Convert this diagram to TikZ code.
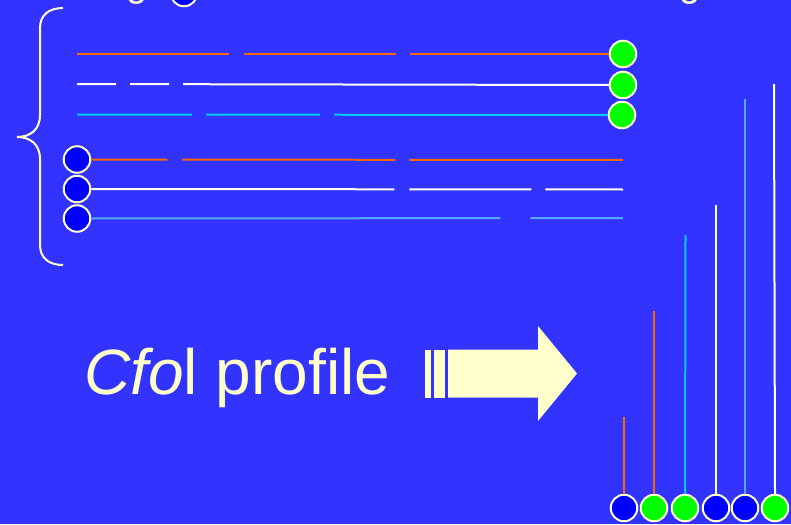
\documentclass[tikz,border=0pt]{standalone}
\usepackage{fontspec}
\setmainfont{Liberation Sans}
\definecolor{bg}{RGB}{51,51,255}
\definecolor{cream}{RGB}{255,255,204}
\definecolor{orng}{RGB}{255,102,0}
\definecolor{cyn}{RGB}{0,204,255}
\definecolor{ltblue}{RGB}{85,170,255}
\definecolor{grn}{RGB}{0,255,0}
\definecolor{blu}{RGB}{0,0,255}
\begin{document}
\begin{tikzpicture}[x=1pt,y=-1pt,
  dot/.style={circle,draw=cream,line width=2pt,minimum size=26.5pt,inner sep=0pt},
  gdot/.style={dot,fill=grn},
  bdot/.style={dot,fill=blu},
  frag/.style={line width=2pt},
  ftxt/.style={text=cream,inner sep=0pt}
]
\useasboundingbox (0,0) rectangle (791,524);
\fill[bg] (0,0) rectangle (791,524);
\clip (0,0) rectangle (791,524);

% cropped title remnants
\node[ftxt,font=\fontsize{38}{40}\selectfont,anchor=base] (tg1) at (137,-3) {g};
\node[ftxt,font=\fontsize{38}{40}\selectfont,anchor=base] (tg2) at (690,-3) {g};
\node[bdot] (tc) at (184,-7) {};

% brace
\draw[cream,line width=2pt] (63,8) .. controls (49,8) and (40,15) .. (40,28)
  -- (40,115) .. controls (40,130) and (30,137) .. (17,137)
  .. controls (30,137) and (40,144) .. (40,159)
  -- (40,245) .. controls (40,258) and (49,265) .. (63,265);

% top rows ending at green dots
\node[gdot] (g1) at (623,54) {};
\node[gdot] (g2) at (623,85) {};
\node[gdot] (g3) at (622,115) {};
\coordinate (s1) at (77,54);
\coordinate (s2) at (77,84);
\coordinate (s3) at (77,114.5);
\draw[frag,orng,dash pattern=on 152pt off 15pt on 152pt off 14pt on 400pt] (s1) -- (g1.west);
\draw[frag,white,dash pattern=on 39pt off 14pt on 39pt off 14pt on 500pt] (s2) -- (g2.west);
\draw[frag,cyn,dash pattern=on 115pt off 14pt on 114pt off 14pt on 500pt] (s3) -- (g3.west);

% lower rows starting at blue dots
\node[bdot] (b4) at (77,159.5) {};
\node[bdot] (b5) at (77,189) {};
\node[bdot] (b6) at (77,218.5) {};
\coordinate (e4) at (623,160);
\coordinate (e5) at (623,189.5);
\coordinate (e6) at (623,218);
\draw[frag,orng,dash pattern=on 76pt off 15pt on 213pt off 14pt on 300pt] (b4.east) -- (e4);
\draw[frag,white,dash pattern=on 303pt off 15pt on 122pt off 14pt on 100pt] (b5.east) -- (e5);
\draw[frag,ltblue,dash pattern=on 409pt off 30pt on 100pt] (b6.east) -- (e6);

% label
\node[ftxt,anchor=base west,font=\fontsize{64}{70}\selectfont] (lbl) at (84,394) {\textit{Cfo}l profile};

% block arrow
\fill[cream] (424.6,349.5) rectangle (430.8,397.5);
\fill[cream] (434.3,349.5) rectangle (444.6,397.5);
\fill[cream] (448,349.5) -- (538,349.5) -- (538,326) -- (577,373.5) -- (538,421) -- (538,397.5) -- (448,397.5) -- cycle;

% bottom dots with vertical lines
\node[bdot] (v1) at (624,508) {};
\node[gdot] (v2) at (654,508) {};
\node[gdot] (v3) at (685,508) {};
\node[bdot] (v4) at (716,508) {};
\node[bdot] (v5) at (745,508) {};
\node[gdot] (v6) at (775,508) {};
\coordinate (t1) at (624,417);
\coordinate (t2) at (654,311);
\coordinate (t3) at (685.5,235);
\coordinate (t4) at (716,205);
\coordinate (t5) at (745,99);
\coordinate (t6) at (774,84);
\draw[frag,orng] (v1.north) -- (t1);
\draw[frag,orng] (v2.north) -- (t2);
\draw[frag,cyn] (v3.north) -- (t3);
\draw[frag,white] (v4.north) -- (t4);
\draw[frag,ltblue] (v5.north) -- (t5);
\draw[frag,white] (v6.north) -- (t6);
\end{tikzpicture}
\end{document}
